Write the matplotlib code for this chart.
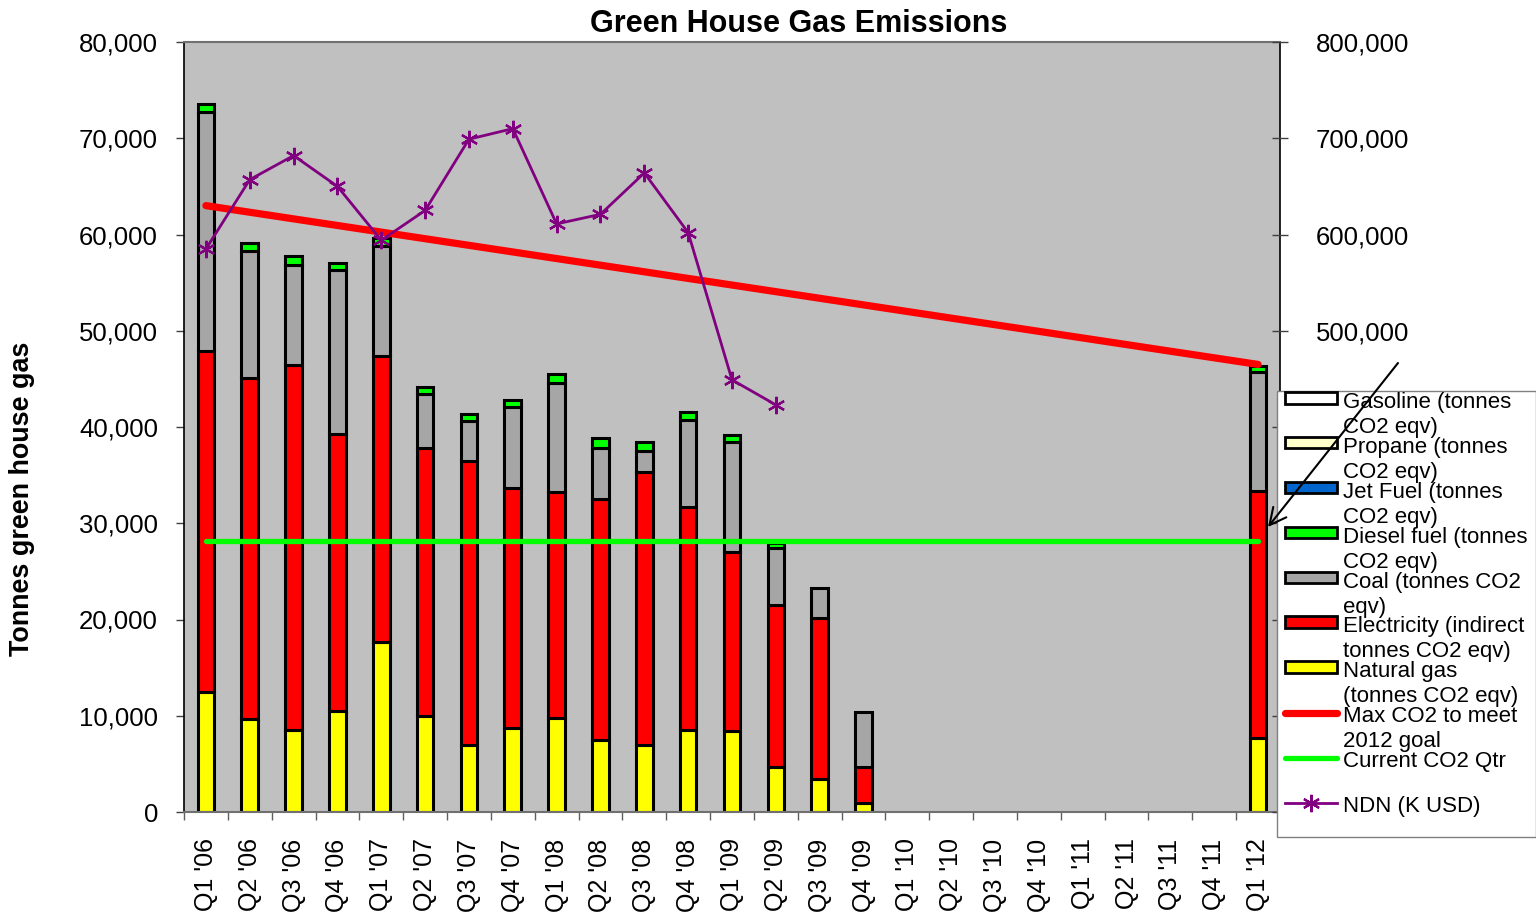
import numpy as np
import matplotlib
matplotlib.use("Agg")
import matplotlib.pyplot as plt
from matplotlib.patches import Patch, Rectangle, FancyArrowPatch
from matplotlib.lines import Line2D
from matplotlib.ticker import StrMethodFormatter

plt.rcParams['font.family'] = ['Liberation Sans', 'DejaVu Sans']

# ---------------- data ----------------
categories = ["Q1 '06", "Q2 '06", "Q3 '06", "Q4 '06", "Q1 '07", "Q2 '07", "Q3 '07",
              "Q4 '07", "Q1 '08", "Q2 '08", "Q3 '08", "Q4 '08", "Q1 '09", "Q2 '09",
              "Q3 '09", "Q4 '09", "Q1 '10", "Q2 '10", "Q3 '10", "Q4 '10", "Q1 '11",
              "Q2 '11", "Q3 '11", "Q4 '11", "Q1 '12"]

natural_gas = [12500, 9700, 8500, 10500, 17700, 10000, 7000, 8700, 9800, 7500, 7000, 8500,
               8400, 4700, 3400, 900, None, None, None, None, None, None, None, None, 7700]
electricity = [35400, 35400, 37900, 28800, 29700, 27800, 29500, 25000, 23400, 25000, 28300,
               23200, 18600, 16800, 16800, 3800, None, None, None, None, None, None, None,
               None, 25700]
coal = [24800, 13200, 10400, 17000, 11400, 5600, 4100, 8400, 11400, 5300, 2200, 9000,
        11400, 5900, 3100, 5700, None, None, None, None, None, None, None, None, 12300]
diesel = [900, 800, 1000, 700, 800, 800, 800, 700, 900, 1100, 900, 900, 800, 500,
          None, None, None, None, None, None, None, None, None, None, 600]
jet_fuel = [None] * 25
propane = [None] * 25
gasoline = [None] * 25

max_co2_goal = [63000] + [None] * 23 + [46500]
current_co2_qtr = 28150

ndn_k_usd = [585000, 657000, 682000, 650000, 594000, 625000, 699000, 710000, 611000,
             621000, 664000, 602000, 449000, 423000]

series_labels = ["Gasoline (tonnes\nCO2 eqv)", "Propane (tonnes\nCO2 eqv)",
                 "Jet Fuel (tonnes\nCO2 eqv)", "Diesel fuel (tonnes\nCO2 eqv)",
                 "Coal (tonnes CO2\neqv)", "Electricity (indirect\ntonnes CO2 eqv)",
                 "Natural gas\n(tonnes CO2 eqv)", "Max CO2 to meet\n2012 goal",
                 "Current CO2 Qtr\n", "NDN (K USD)"]

# ---------------- figure ----------------
W, H = 1536, 916
fig = plt.figure(figsize=(W / 100, H / 100), dpi=100)
rect = [184 / W, 1 - 812 / H, 1096 / W, 770 / H]
ax = fig.add_axes(rect)
ax.set_facecolor('#C0C0C0')

x = np.arange(len(categories))
stack = [(natural_gas, '#FFFF00'), (electricity, '#FF0000'), (coal, '#A6A6A6'),
         (diesel, '#00FF00'), (jet_fuel, '#0066CC'), (propane, '#FFFFCC'),
         (gasoline, '#FFFFFF')]
bottom = np.zeros(len(categories))
for vals, col in stack:
    arr = np.array([np.nan if v is None else v for v in vals], dtype=float)
    m = np.isfinite(arr)
    if m.any():
        ax.bar(x[m], arr[m], bottom=bottom[m], width=0.38, color=col,
               edgecolor='black', linewidth=2.2, zorder=2)
    bottom = bottom + np.nan_to_num(arr)

mx = np.array([np.nan if v is None else v for v in max_co2_goal], dtype=float)
mm = np.isfinite(mx)
ax.plot(x[mm], mx[mm], color='#FF0000', lw=5.2, solid_capstyle='round', zorder=3)
ax.plot([x[0], x[-1]], [current_co2_qtr, current_co2_qtr], color='#00FF00', lw=3.8,
        solid_capstyle='round', zorder=3)

ax.set_xlim(-0.5, len(categories) - 0.5)
ax.set_ylim(0, 80000)
ax.set_yticks(np.arange(0, 80001, 10000))
ax.yaxis.set_major_formatter(StrMethodFormatter('{x:,.0f}'))
ax.tick_params(axis='y', direction='out', length=5.8, width=1, pad=13, labelsize=18.5,
               color='#404040')
ax.set_xticks(x)
ax.set_xticklabels(categories, rotation=90)
ax.tick_params(axis='x', which='major', length=0, pad=19, labelsize=18)
ax.set_xticks(np.arange(-0.5, len(categories), 1), minor=True)
ax.tick_params(axis='x', which='minor', direction='out', length=5.5, width=1,
               color='#606060')
for s in ['left', 'right']:
    ax.spines[s].set_color('black')
    ax.spines[s].set_linewidth(1.2)
for s in ['top', 'bottom']:
    ax.spines[s].set_color('#707070')
    ax.spines[s].set_linewidth(1.5)

# secondary y axis for NDN
ax2 = fig.add_axes(rect, facecolor='none')
ax2.set_xlim(-0.5, len(categories) - 0.5)
ax2.set_ylim(0, 800000)
ax2.xaxis.set_visible(False)
ax2.yaxis.tick_right()
ax2.set_yticks(np.arange(0, 800001, 100000))
ax2.yaxis.set_major_formatter(StrMethodFormatter('{x:,.0f}'))
ax2.tick_params(axis='y', direction='inout', length=11.5, width=1, pad=20, labelsize=18.5,
                color='#404040')
for s in ax2.spines.values():
    s.set_visible(False)
ax2.plot(x[:len(ndn_k_usd)], ndn_k_usd, color='#800080', lw=2.0,
         marker=(6, 2, 0), markersize=12.5, markeredgewidth=1.6, zorder=4)

# titles
fig.text(799 / W, 1 - 32 / H, 'Green House Gas Emissions', ha='center', va='baseline',
         fontsize=22, fontweight='bold')
fig.text(22 / W, 1 - 499 / H, 'Tonnes green house gas', rotation=90, ha='center',
         va='center', fontsize=19.4, fontweight='bold')

# legend
fig.add_artist(Rectangle((1277 / W, 1 - 837 / H), (1536 - 1277) / W, (837 - 390.7) / H,
                         transform=fig.transFigure, facecolor='white',
                         edgecolor='#808080', lw=1.0, zorder=4))
handles = [Patch(facecolor='#FFFFFF', edgecolor='black', lw=2),
           Patch(facecolor='#FFFFCC', edgecolor='black', lw=2),
           Patch(facecolor='#0066CC', edgecolor='black', lw=2),
           Patch(facecolor='#00FF00', edgecolor='black', lw=2),
           Patch(facecolor='#A6A6A6', edgecolor='black', lw=2),
           Patch(facecolor='#FF0000', edgecolor='black', lw=2),
           Patch(facecolor='#FFFF00', edgecolor='black', lw=2),
           Line2D([], [], color='#FF0000', lw=5.2, solid_capstyle='round'),
           Line2D([], [], color='#00FF00', lw=3.8, solid_capstyle='round'),
           Line2D([], [], color='#800080', lw=2.0, marker=(6, 2, 0), markersize=12.5,
                  markeredgewidth=1.6)]
leg = fig.legend(handles, series_labels, loc='upper left',
                 bbox_to_anchor=(1285 / W, 1 - 392 / H), frameon=False, borderpad=0,
                 borderaxespad=0, fontsize=16, handlelength=2.34, handleheight=0.42,
                 handletextpad=0.27, labelspacing=-0.05)
leg.set_zorder(5)
for t in leg.get_texts():
    t.set_linespacing(1.25)
for col in leg._legend_handle_box.get_children():
    for item in col.get_children():
        item.align = 'top'

fig.add_artist(FancyArrowPatch((1398 / W, 1 - 363 / H), (1268 / W, 1 - 527 / H),
                               transform=fig.transFigure, arrowstyle='->',
                               mutation_scale=30, lw=1.5, color='black',
                               shrinkA=0, shrinkB=0, zorder=6))

fig.savefig('out.png', dpi=100)
